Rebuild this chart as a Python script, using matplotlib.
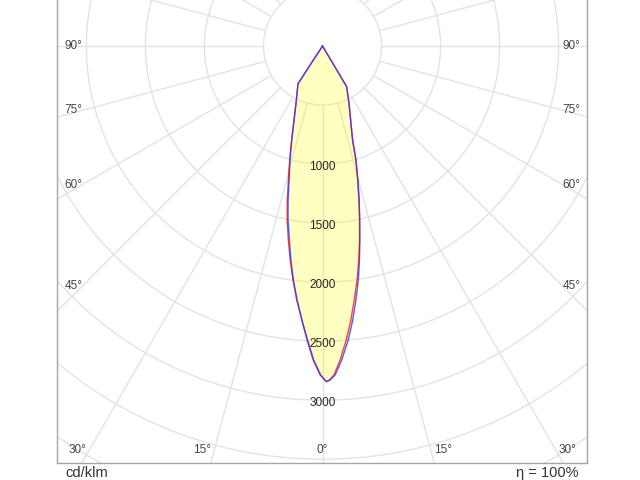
import numpy as np
import matplotlib
matplotlib.use("Agg")
import matplotlib.pyplot as plt

plt.rcParams['font.family'] = ['Liberation Sans', 'DejaVu Sans']

# ---- data (signed gamma: negative = left half-plane, positive = right) ----
gamma_blue = [-40, -33, -24.9, -18.1, -15.9, -14.0, -12.6, -11.2, -9.7, -8.4, -7.1, -5.7,
              -4.3, -3.0, -1.7, -0.4, 0.7, 1.3, 2.2, 3.5, 5.0, 6.3, 7.5, 8.7, 9.8, 10.9,
              12.1, 13.4, 14.8, 16.4, 17.8, 24.9, 30.7, 40]
I_blue = [0, 381, 532, 838, 1004, 1170, 1337, 1503, 1667, 1832, 1997, 2162,
          2328, 2494, 2661, 2787, 2843, 2830, 2788, 2665, 2500, 2335, 2170, 2005, 1839, 1674,
          1507, 1341, 1174, 1006, 836, 532, 401, 0]
gamma_red = [-40, -33, -24.9, -18.2, -16.1, -14.3, -12.9, -11.5, -10.0, -8.6, -7.2, -5.8,
             -4.3, -2.9, -1.6, -0.3, 0.6, 1.2, 2.0, 3.2, 4.6, 5.9, 7.1, 8.4, 9.6, 10.8,
             12.0, 13.3, 14.7, 16.3, 17.7, 24.9, 30.7, 40]
I_red = I_blue

ring_values = [500, 1000, 1500, 2000, 2500, 3000, 3500, 4000, 4500, 5000, 5500, 6000]
ring_labels = [1000, 1500, 2000, 2500, 3000]
ray_angles = list(range(0, 360, 15))
side_label_angles = [90, 75, 60, 45]
bottom_label_angles = [30, 15, 0]
unit_text = "cd/klm"
eff_text = "η = 100%"

# ---- layout in pixels ----
W, H = 640, 480
S = 8.47                      # cd per pixel
cx, cy = 322.5, 46.0          # polar centre (px)
axL, axR, axB, axT = 57, 587, 463, -60

fig = plt.figure(figsize=(6.4, 4.8), dpi=100)
ax = fig.add_axes([axL / W, (H - axB) / H, (axR - axL) / W, (axB - axT) / H])
ax.set_xlim((axL - cx) * S, (axR - cx) * S)
ax.set_ylim(-(axB - cy) * S, (cy - axT) * S)
ax.set_xticks([]); ax.set_yticks([])
for sp in ax.spines.values():
    sp.set_color('#a6a6a6'); sp.set_linewidth(1.0)

grid_c = '#e3e3e3'
t = np.linspace(0, 2 * np.pi, 721)
for r in ring_values:
    ax.plot(r * np.cos(t), r * np.sin(t), color=grid_c, lw=1.0, zorder=1)
for a in ray_angles:
    th = np.radians(a)
    r0, r1 = ring_values[0], 10000
    ax.plot([r0 * np.sin(th), r1 * np.sin(th)], [-r0 * np.cos(th), -r1 * np.cos(th)],
            color=grid_c, lw=1.0, zorder=1)

def xy(g, I):
    g = np.radians(np.asarray(g, float)); I = np.asarray(I, float)
    return I * np.sin(g), -I * np.cos(g)

xb, yb = xy(gamma_blue, I_blue)
xr, yr = xy(gamma_red, I_red)
ax.fill(xb, yb, color='#ffff00', alpha=0.24, lw=0, zorder=2)
ax.plot(xr, yr, color='#ff2020', lw=1.0, alpha=0.85, zorder=3)
ax.plot(xb, yb, color='#3030ff', lw=1.0, alpha=0.8, zorder=4)

# ring labels
for r in ring_labels:
    ax.text(0, -r - 3 * S, str(r), ha='center', va='center', fontsize=8.5,
            color='#262626', zorder=5)

# angle labels on sides
side = 240 * S
for a in side_label_angles:
    yv = -side / np.tan(np.radians(a)) if a != 90 else 0.0
    ax.text(-side, yv, f"{a}°", ha='right', va='center', fontsize=8.5, color='#444444')
    ax.text(side, yv, f"{a}°", ha='left', va='center', fontsize=8.5, color='#444444')
# angle labels at bottom
yb_lab = -(450 - cy) * S
for a in bottom_label_angles:
    if a == 0:
        ax.text(0, yb_lab, "0°", ha='center', va='center', fontsize=8.5, color='#444444')
        continue
    xv = -yb_lab * np.tan(np.radians(a)) + 3 * S
    ax.text(-xv, yb_lab, f"{a}°", ha='right', va='center', fontsize=8.5, color='#444444')
    ax.text(xv, yb_lab, f"{a}°", ha='left', va='center', fontsize=8.5, color='#444444')

fig.text(65 / W, 1 - 466 / H, unit_text, ha='left', va='top', fontsize=10.5, color='#333333')
fig.text(579 / W, 1 - 466 / H, eff_text, ha='right', va='top', fontsize=10.5, color='#333333')

fig.savefig("out.png", dpi=100)
